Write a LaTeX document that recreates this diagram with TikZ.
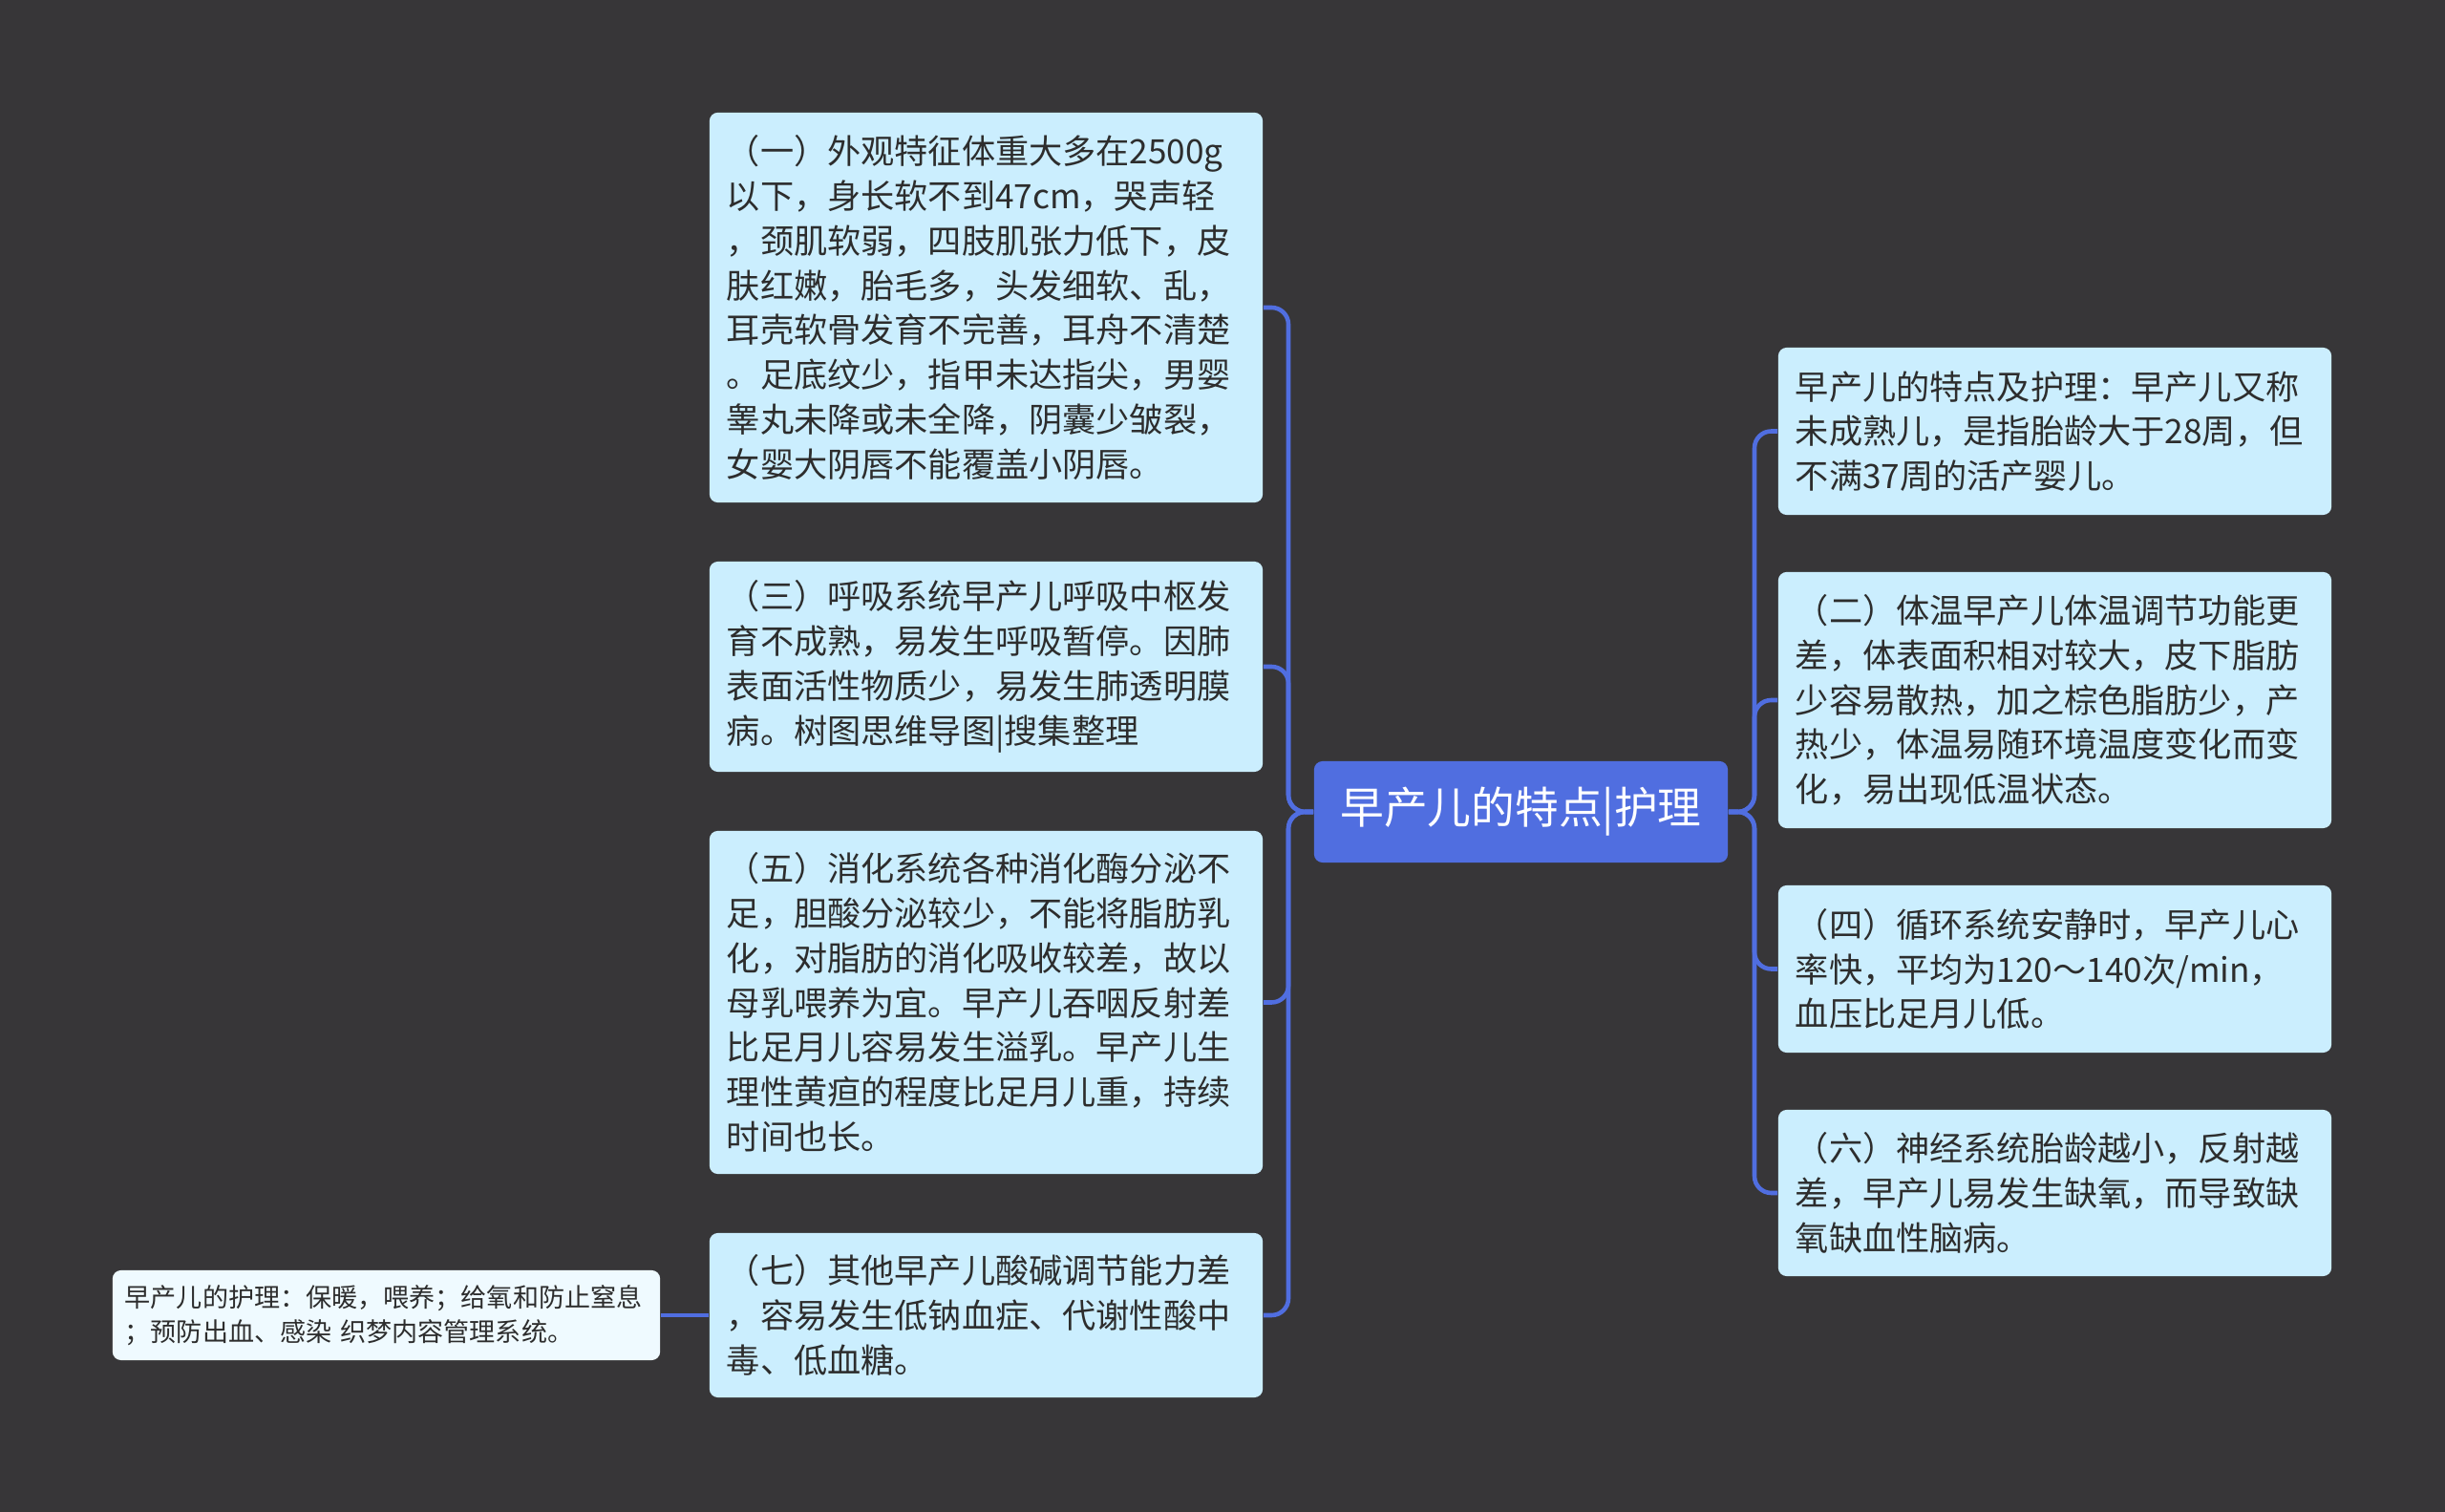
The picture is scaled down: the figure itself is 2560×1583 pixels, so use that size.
\documentclass[tikz,border=0pt]{standalone}
\usepackage{fontspec}
\setmainfont{Noto Sans CJK SC}
\definecolor{bg}{RGB}{55,54,56}
\definecolor{leafc}{RGB}{203,238,254}
\definecolor{smallc}{RGB}{239,250,255}
\definecolor{mainc}{RGB}{80,110,224}
\definecolor{linec}{RGB}{80,110,224}
\definecolor{txt}{RGB}{45,45,45}
\begin{document}
\begin{tikzpicture}[x=0.01cm,y=-0.01cm,
  leaf/.style={fill=leafc, rounded corners=2.5pt, text=txt, align=left,
    text width=5.43cm, inner xsep=0.18cm, inner ysep=0pt,
    font=\fontsize{10}{13.3}\selectfont},
  smallbox/.style={fill=smallc, rounded corners=2.5pt, text=txt, align=left,
    text width=5.47cm, inner xsep=0.13cm, inner ysep=0pt,
    font=\fontsize{7.7}{10.2}\selectfont},
  mainbox/.style={fill=mainc, rounded corners=2.5pt, text=white, align=center,
    minimum width=4.33cm, minimum height=1.06cm, inner sep=0pt,
    font=\fontsize{13}{16}\selectfont},
  conn/.style={draw=linec, line width=1.3pt, rounded corners=5pt}]
\fill[bg] (0,0) rectangle (2560,1583);
\useasboundingbox (0,0) rectangle (2560,1583);

\node[mainbox] (C) at (1592.5,850) {早产儿的特点|护理};

\node[leaf, minimum height=4.08cm] (L1) at (1032.5,322) {（一）外观特征体重大多在2500g\\以下，身长软不到47cm，哭声轻\\，颈肌软弱，四肢肌张力低下，皮\\肤红嫩，胎毛多，头发细软、乱，\\耳壳软骨发育不完善，耳舟不清楚\\。足底纹少，指甲未达指尖，男婴\\睾丸未降或未全降，阴囊少皱裂，\\女婴大阴唇不能覆盖小阴唇。};
\node[leaf, minimum height=2.20cm] (L3) at (1032.5,698) {（三）呼吸系统早产儿呼吸中枢发\\育不成熟，易发生呼吸暂停。因肺\\表面活性物质少，易发生肺透明膜\\病。树图思维导图|搜集整理};
\node[leaf, minimum height=3.59cm] (L5) at (1032.5,1049.5) {（五）消化系统各种消化酶分泌不\\足，胆酸分泌较少，不能将脂肪乳\\化，对脂肪的消化吸收较差，故以\\母乳喂养为宜。早产儿吞咽反射差\\比足月儿容易发生溢乳。早产儿生\\理性黄疸的程度比足月儿重，持续\\时间也长。};
\node[leaf, minimum height=1.72cm] (L7) at (1032.5,1377) {（七）其他早产儿酸碱调节能力差\\，容易发生低钠血症、代谢性酸中\\毒、低血糖。};

\node[smallbox, minimum height=0.94cm] (S) at (404.5,1377) {早产儿的护理：保暖，喂养；给氧和防止窒息\\；预防出血、感染 织梦内容管理系统。};

\node[leaf, minimum height=1.75cm] (R1) at (2151.5,451.5) {早产儿的特点及护理：早产儿又称\\未成熟儿，是指胎龄大于28周，但\\不满37周的活产婴儿。};
\node[leaf, minimum height=2.68cm] (R2) at (2151.5,733) {（二）体温早产儿体温调节功能更\\差，体表面积相对较大，皮下脂肪\\少容易散热，加之棕色脂肪少，产\\热少，体温易随环境温度变化而变\\化，易出现低温状态。};
\node[leaf, minimum height=1.75cm] (R4) at (2151.5,1014.5) {（四）循环系统安静时，早产儿心\\率快，平均为120～140次/min，\\血压比足月儿低。};
\node[leaf, minimum height=1.74cm] (R6) at (2151.5,1249) {（六）神经系统胎龄越小，反射越\\差，早产儿易发生缺氧，而导致缺\\氧缺血性脑病。};

\coordinate (lt) at (1349,850);
\coordinate (rt) at (1837,850);

\draw[conn] (C.west) -- (lt) |- (L1.east);
\draw[conn] (C.west) -- (lt) |- (L3.east);
\draw[conn] (C.west) -- (lt) |- (L5.east);
\draw[conn] (C.west) -- (lt) |- (L7.east);
\draw[conn] (L7.west) -- (S.east);

\draw[conn] (C.east) -- (rt) |- (R1.west);
\draw[conn] (C.east) -- (rt) |- (R2.west);
\draw[conn] (C.east) -- (rt) |- (R4.west);
\draw[conn] (C.east) -- (rt) |- (R6.west);
\end{tikzpicture}
\end{document}
